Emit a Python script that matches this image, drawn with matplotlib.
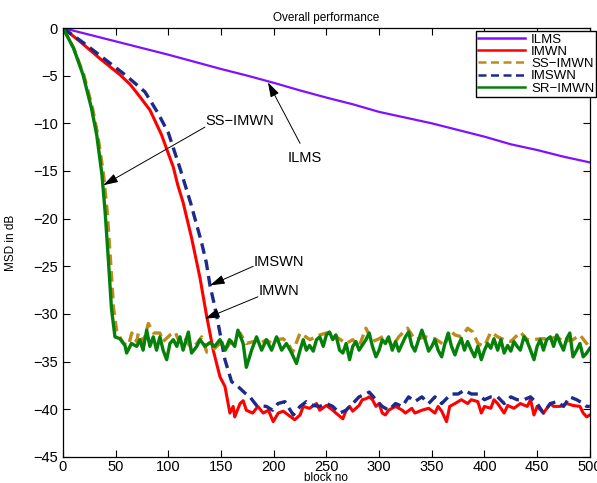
import numpy as np
import matplotlib.pyplot as plt

plt.rcParams['font.family'] = ['Liberation Sans', 'DejaVu Sans']

# ---- learning curves (MSD in dB vs block index) ----
ilms_x = [0, 25, 50, 75, 100, 125, 150, 175, 200, 225, 250, 275, 300, 325,
          350, 375, 400, 425, 450, 475, 500]
ilms_y = [0, -0.7, -1.4, -2.1, -2.8, -3.55, -4.3, -5.0, -5.75, -6.55, -7.3,
          -8.0, -8.8, -9.4, -10.0, -10.7, -11.4, -12.2, -12.8, -13.5, -14.1]

imwn_x = [0, 16, 35, 54, 63.6, 71.5, 82.5, 93.5, 104.7, 109, 114, 122, 130,
          136.3, 142.6, 149, 153.7, 158.4, 161.5, 163, 168, 171, 174, 180,
          185, 190, 195, 199.5, 204.3, 209, 215, 220, 225, 228, 234, 240.6,
          243.7, 250, 256, 259, 265.6, 268.7, 272, 275, 281, 284, 287.5,
          290.6, 293.7, 297, 300, 303, 306, 309, 315.6, 322, 325, 331, 334,
          340.6, 347, 353, 356, 359.4, 364, 367, 372, 378, 384, 387.5, 393.7,
          397, 400, 406, 409, 412.5, 418.7, 422, 428, 434, 440.6, 443.7, 447,
          450, 456, 462.5, 465.6, 472, 478, 484, 490.6, 493.7, 497, 500]
imwn_y = [0, -1.4, -3.2, -4.9, -5.9, -7.0, -8.6, -11.2, -14.6, -16.5, -18.3,
          -22.0, -26.2, -30.2, -33.8, -36.6, -37.6, -40.4, -39.7, -40.8,
          -39.4, -39.1, -40.1, -40.4, -39.7, -40.4, -40.1, -41.3, -40.4,
          -40.2, -40.7, -41.1, -40.6, -39.7, -39.9, -39.4, -40.1, -39.6,
          -40.1, -40.4, -41.0, -40.1, -39.7, -40.2, -39.6, -39.0, -38.9,
          -38.7, -39.0, -39.7, -39.4, -40.4, -40.6, -40.1, -39.7, -40.1,
          -40.4, -39.9, -40.4, -40.1, -39.9, -40.4, -39.7, -40.2, -41.3,
          -39.7, -39.4, -39.0, -39.4, -39.0, -39.2, -40.4, -39.7, -39.9,
          -39.0, -39.4, -40.4, -39.6, -39.9, -39.4, -39.7, -39.0, -40.6,
          -39.7, -40.4, -39.4, -39.7, -39.7, -39.4, -39.6, -39.7, -40.4,
          -40.8, -40.6]

ss_x = [0, 10, 20, 28, 33, 38.5, 42, 45, 48, 51, 52.8, 57.4, 62.2, 65.3, 70,
        71.5, 76.4, 81, 85.8, 92, 95, 101.7, 106.5, 111, 116, 122, 127,
        131.7, 136.5, 139.5, 144, 149, 155, 161.5, 168, 174, 180.6, 187, 193,
        198, 202.7, 209, 213.7, 218, 225, 234.4, 243.7, 253, 259.4, 268.7,
        275, 281, 287.5, 293.7, 300, 306, 312.5, 318.7, 325, 327, 334, 343.7,
        353, 362.5, 367, 372, 378, 381, 384, 389, 393.7, 400, 406, 412.5,
        418.7, 425, 434, 440.6, 447, 453, 462.5, 468.7, 475, 484, 490.6, 497,
        500]
ss_y = [0, -2.1, -5.0, -8.4, -11.2, -15.4, -19.3, -24.2, -29.4, -31.8, -32.2,
        -33.1, -33.3, -32.0, -32.9, -32.0, -32.9, -31.0, -32.0, -32.0, -32.9,
        -32.2, -31.9, -33.1, -32.7, -33.6, -33.1, -32.4, -34.0, -34.0, -33.6,
        -33.1, -33.6, -32.6, -32.0, -33.1, -32.9, -33.1, -32.7, -33.1, -32.7,
        -32.6, -33.1, -34.0, -32.0, -32.7, -32.2, -31.9, -32.4, -33.1, -32.7,
        -33.4, -31.5, -32.9, -32.6, -32.2, -33.4, -32.4, -31.7, -31.5, -32.7,
        -32.4, -32.6, -33.3, -31.7, -32.2, -32.4, -32.0, -31.5, -31.9, -33.1,
        -33.4, -31.9, -32.4, -32.7, -32.9, -31.9, -32.7, -32.7, -32.6, -32.6,
        -32.4, -32.9, -32.7, -32.2, -33.1, -33.5]

imswn_x = [0, 20, 40, 60, 77.8, 90, 100, 111, 121, 131.5, 136, 139.5, 144,
           149, 153.7, 160, 166, 172.7, 177.4, 183.7, 193, 199, 204, 210.6,
           218.6, 225, 231, 237.5, 243.7, 250, 256, 262.5, 268.7, 275, 281,
           287.5, 290.6, 297, 303, 309, 315.6, 322, 328, 334, 340.6, 347,
           353, 359.4, 365.6, 368.7, 375, 381, 387.5, 393.7, 400, 406, 412.5,
           418.7, 425, 431, 437.5, 443.7, 450, 456, 462.5, 468.7, 475, 481,
           487.5, 493.7, 497, 500]
imswn_y = [0, -1.6, -3.3, -5.0, -6.7, -8.9, -11.0, -14.7, -18.3, -22.5,
           -24.6, -27.0, -29.2, -32.0, -34.8, -37.1, -37.6, -38.3, -38.7,
           -39.6, -39.7, -40.1, -39.4, -39.2, -40.6, -39.7, -39.2, -39.6,
           -39.7, -39.4, -39.7, -40.4, -40.1, -39.4, -38.7, -38.4, -38.2,
           -39.0, -39.7, -40.1, -39.4, -39.7, -38.7, -39.2, -38.7, -39.4,
           -38.7, -39.4, -38.7, -38.4, -38.4, -38.0, -38.4, -38.4, -39.0,
           -38.7, -38.7, -39.4, -38.7, -39.0, -39.0, -38.7, -39.4, -40.4,
           -39.4, -39.2, -39.7, -38.7, -39.0, -39.4, -39.7, -39.7]

sr_x = [0, 10, 19, 27, 32, 37, 40, 43, 46, 49.3, 54, 58.8, 60.4, 65, 70, 73,
        76, 79.4, 82.5, 85.7, 88.8, 92, 95, 98.4, 101.5, 104.7, 108, 111, 114,
        119, 122, 127, 130, 134.7, 139.5, 144, 149, 154, 158, 163, 166, 171,
        174, 179, 183.7, 188.5, 193, 198, 202.7, 207.5, 212, 217, 221.6, 225,
        228, 231, 234, 237.5, 240.6, 243.7, 247, 250, 253, 256, 259, 262.5,
        265.6, 268.7, 272, 275, 278, 281, 284, 287.5, 290.6, 293.7, 297, 300,
        303, 306, 309, 312.5, 315.6, 318.7, 322, 325, 328, 331, 334, 337.5,
        340.6, 343.7, 347, 350, 353, 356, 359.4, 362.5, 365.6, 368.7, 372,
        375, 378, 381, 384, 387.5, 390.6, 393.7, 397, 400, 403, 406, 409,
        412.5, 415.6, 418.7, 422, 425, 428, 431, 434, 437.5, 440.6, 443.7,
        447, 450, 453, 456, 459, 462.5, 465.6, 468.7, 472, 475, 478, 481, 484,
        487.5, 490.6, 493.7, 497, 500]
sr_y = [0, -2.1, -4.9, -8.4, -11.2, -15.4, -19.3, -24.2, -29.4, -32.4, -32.6,
        -33.3, -34.1, -33.1, -33.4, -32.7, -33.8, -31.7, -33.4, -32.4, -33.8,
        -32.4, -33.8, -34.8, -33.1, -32.7, -33.4, -32.4, -33.8, -31.9, -34.1,
        -33.4, -32.7, -33.4, -33.0, -33.4, -32.7, -33.8, -32.7, -33.4, -31.7,
        -33.1, -35.6, -33.8, -32.4, -33.8, -32.7, -33.8, -32.4, -33.8, -33.1,
        -34.1, -35.2, -33.8, -32.7, -33.8, -33.3, -33.9, -32.7, -32.4, -33.4,
        -32.2, -31.9, -32.7, -32.2, -33.8, -34.1, -33.1, -34.8, -33.4, -32.9,
        -33.8, -33.3, -32.7, -32.0, -33.4, -34.5, -33.8, -32.7, -33.1, -32.4,
        -33.8, -32.9, -33.9, -33.1, -32.4, -31.9, -33.3, -33.9, -32.7, -31.7,
        -32.7, -33.9, -33.4, -32.7, -33.8, -34.5, -33.1, -32.0, -33.4, -34.3,
        -33.3, -32.6, -33.8, -32.9, -33.8, -34.5, -33.4, -34.8, -33.8, -33.1,
        -33.6, -32.6, -33.8, -32.7, -34.1, -33.3, -33.9, -32.9, -33.4, -33.8,
        -32.4, -32.9, -33.8, -34.8, -33.4, -32.7, -33.8, -32.7, -32.4, -33.4,
        -32.2, -33.1, -33.8, -32.6, -32.0, -34.5, -33.8, -33.1, -34.5, -34.1,
        -33.6]

fig = plt.figure(figsize=(5.97, 4.83), dpi=100)
ax = fig.add_axes([0.1055, 0.054, 0.8825, 0.888])

dash = (0, (3.2, 1.8))
ax.plot(ilms_x, ilms_y, color='#8010ff', lw=1.6, label='ILMS')
ax.plot(imwn_x, imwn_y, color='#ff0000', lw=2.2, label='IMWN')
ax.plot(ss_x, ss_y, color='#bf8a1c', lw=2.4, ls=dash, label='SS\u2212IMWN')
ax.plot(imswn_x, imswn_y, color='#1c2a8c', lw=2.4, ls=dash, label='IMSWN')
ax.plot(sr_x, sr_y, color='#05800a', lw=2.4, label='SR\u2212IMWN')

# arrow annotations
arw = dict(arrowstyle='-|>,head_length=0.9,head_width=0.28', color='black',
           lw=0.7, shrinkA=0, shrinkB=0)
ax.annotate('', xy=(38.2, -16.5), xytext=(134.7, -10.4), arrowprops=arw)
ax.text(168, -9.8, 'SS\u2212IMWN', fontsize=10.5, ha='center', va='center')
ax.annotate('', xy=(194.5, -5.7), xytext=(225, -12.1), arrowprops=arw)
ax.text(229.5, -13.6, 'ILMS', fontsize=10.5, ha='center', va='center')
ax.annotate('', xy=(139.5, -27.0), xytext=(180.6, -25.0), arrowprops=arw)
ax.text(181, -24.6, 'IMSWN', fontsize=10.5, ha='left', va='center')
ax.annotate('', xy=(134.7, -30.5), xytext=(185, -28.2), arrowprops=arw)
ax.text(186, -27.6, 'IMWN', fontsize=10.5, ha='left', va='center')

ax.set_xlim(0, 500)
ax.set_ylim(-45, 0)
ax.set_xticks(np.arange(0, 501, 50))
ax.set_yticks(np.arange(-45, 1, 5))
ax.tick_params(direction='in', top=True, right=True, length=5, width=0.8,
               labelsize=10.5)
ax.tick_params(axis='x', pad=2)
for s in ax.spines.values():
    s.set_linewidth(0.9)
ax.set_title('Overall performance', fontsize=8.5, pad=5)
ax.set_xlabel('block no', fontsize=8.5, labelpad=-1)
ax.set_ylabel('MSD in dB', fontsize=8.5, labelpad=12)

leg = ax.legend(loc='upper right', bbox_to_anchor=(0.999, 0.935),
                bbox_transform=fig.transFigure, fontsize=9.5, handlelength=3.5,
                handletextpad=0.5, borderpad=0.15, labelspacing=0.0,
                borderaxespad=0, fancybox=False, framealpha=1)
leg.get_frame().set_edgecolor('black')
leg.get_frame().set_linewidth(1.0)
for line in leg.get_lines():
    line.set_linewidth(1.8)

fig.savefig('out.png', dpi=100)
